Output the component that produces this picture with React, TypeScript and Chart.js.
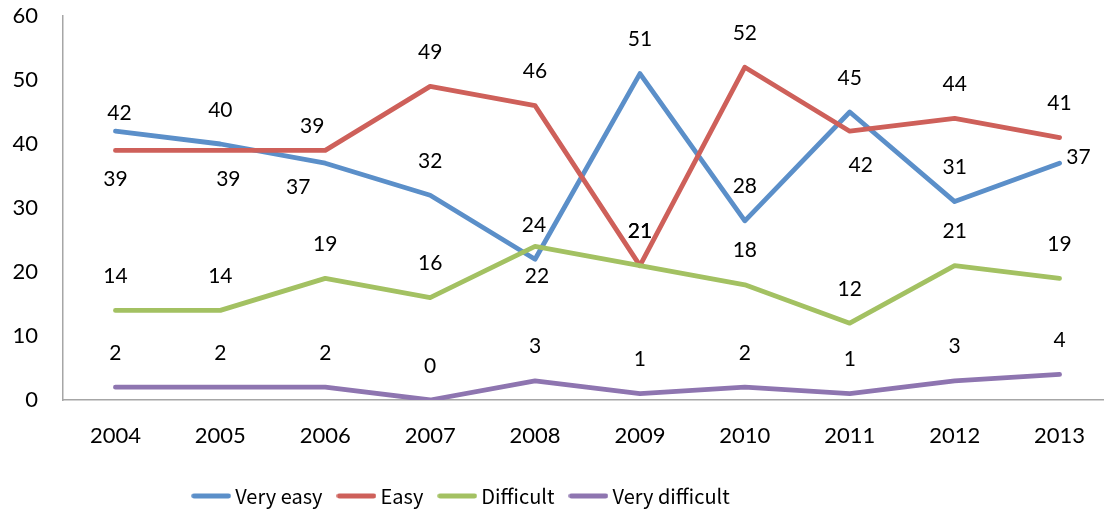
import React, { useEffect, useRef } from "react";
import { Chart, registerables } from "chart.js";

Chart.register(...registerables);

// ---- data ----
const years = ["2004", "2005", "2006", "2007", "2008", "2009", "2010", "2011", "2012", "2013"];
const veryEasy = [42, 40, 37, 32, 22, 51, 28, 45, 31, 37];
const easy = [39, 39, 39, 49, 46, 21, 52, 42, 44, 41];
const difficult = [14, 14, 19, 16, 24, 21, 18, 12, 21, 19];
const veryDifficult = [2, 2, 2, 0, 3, 1, 2, 1, 3, 4];
const seriesNames = ["Very easy", "Easy", "Difficult", "Very difficult"];
const yMin = 0;
const yMax = 60;
const yStep = 10;

// ---- styling ----
const FONT = "Lato, 'Open Sans', sans-serif";
const LEGEND_FONT = "'Noto Sans CJK JP', Lato, sans-serif";
const seriesColors = ["#5B8FC9", "#CE605A", "#A3C162", "#8E75B0"];
const LINE_WIDTH = 4.8;

// data-label placement relative to each point (default: above)
const DEFAULT_NUDGE: [number, number] = [0, -35];
const labelNudges: Record<string, [number, number]> = {
  "0-0": [4, -19],
  "0-2": [-27, 23],
  "0-4": [2, 16],
  "0-9": [19, -7],
  "1-0": [0, 28],
  "1-1": [8, 28],
  "1-2": [-13, -25],
  "1-7": [11, 33],
  "2-4": [-1, -22],
};

function makeSwatch(color: string): HTMLCanvasElement {
  const c = document.createElement("canvas");
  c.width = 40;
  c.height = 8;
  const g = c.getContext("2d")!;
  g.strokeStyle = color;
  g.lineWidth = LINE_WIDTH;
  g.lineCap = "round";
  g.beginPath();
  g.moveTo(2.6, 4);
  g.lineTo(37.4, 4);
  g.stroke();
  return c;
}

export default function App() {
  const ref = useRef<HTMLCanvasElement>(null);

  useEffect(() => {
    const canvas = ref.current;
    if (!canvas) return;
    const seriesValues = [veryEasy, easy, difficult, veryDifficult];
    const swatches = seriesColors.map(makeSwatch);

    const valueLabels = {
      id: "valueLabels",
      afterDatasetsDraw(chart: any) {
        const ctx = chart.ctx;
        ctx.save();
        ctx.font = `21px ${FONT}`;
        ctx.fillStyle = "#000";
        ctx.textAlign = "center";
        ctx.textBaseline = "alphabetic";
        chart.data.datasets.forEach((ds: any, di: number) => {
          const meta = chart.getDatasetMeta(di);
          meta.data.forEach((pt: any, i: number) => {
            const [dx, dy] = labelNudges[`${di}-${i}`] ?? DEFAULT_NUDGE;
            ctx.fillText(String(ds.data[i]), pt.x + dx, pt.y + dy + 7.5);
          });
        });
        ctx.restore();
      },
    };

    const legendShift = {
      id: "legendShift",
      afterLayout(chart: any) {
        const lg = chart.legend;
        if (lg) {
          lg.left = 0;
          lg.right = 927;
          lg.width = 927;
        }
      },
    };

    const chart = new Chart(canvas, {
      type: "line",
      data: {
        labels: years,
        datasets: seriesValues.map((vals, i) => ({
          label: seriesNames[i],
          data: vals,
          borderColor: seriesColors[i],
          backgroundColor: seriesColors[i],
          borderWidth: LINE_WIDTH,
          borderCapStyle: "round" as const,
          borderJoinStyle: "round" as const,
          pointRadius: 0,
          pointHoverRadius: 0,
          fill: false,
          tension: 0,
          order: seriesValues.length - i,
        })),
      },
      options: {
        responsive: false,
        animation: false,
        layout: { padding: { top: 16, left: 0, right: 0, bottom: 0 } },
        plugins: {
          tooltip: { enabled: false },
          legend: {
            position: "bottom",
            labels: {
              usePointStyle: true,
              pointStyleWidth: 28,
              color: "#000",
              padding: 20,
              font: { family: LEGEND_FONT, size: 20 },
              sort: (a: any, b: any) => a.datasetIndex - b.datasetIndex,
              generateLabels: (chart: any) =>
                Chart.defaults.plugins.legend.labels
                  .generateLabels(chart)
                  .map((item: any) => ({ ...item, pointStyle: swatches[item.datasetIndex] })),
            },
          },
        },
        scales: {
          x: {
            offset: true,
            grid: { display: false, drawTicks: false },
            border: { display: true, color: "#a6a6a6", width: 1.5 },
            ticks: { color: "#000", font: { family: FONT, size: 22 }, padding: 23, maxRotation: 0 },
            afterFit: (scale: any) => {
              scale.height = 66;
            },
          },
          y: {
            min: yMin,
            max: yMax,
            grid: { display: false, drawTicks: false },
            border: { display: true, color: "#a6a6a6", width: 1.5 },
            ticks: { stepSize: yStep, color: "#000", font: { family: FONT, size: 22 }, padding: 25 },
            afterFit: (scale: any) => {
              scale.width = 63;
              scale.paddingTop = 13;
              scale.paddingBottom = 13;
            },
          },
        },
      },
      plugins: [valueLabels, legendShift],
    });

    return () => chart.destroy();
  }, []);

  return (
    <div
      style={{
        position: "fixed",
        left: 0,
        top: 0,
        width: 1104,
        height: 512,
        overflow: "hidden",
        background: "#fff",
      }}
    >
      <canvas ref={ref} width={1112} height={516} style={{ display: "block", width: 1112, height: 516 }} />
    </div>
  );
}
